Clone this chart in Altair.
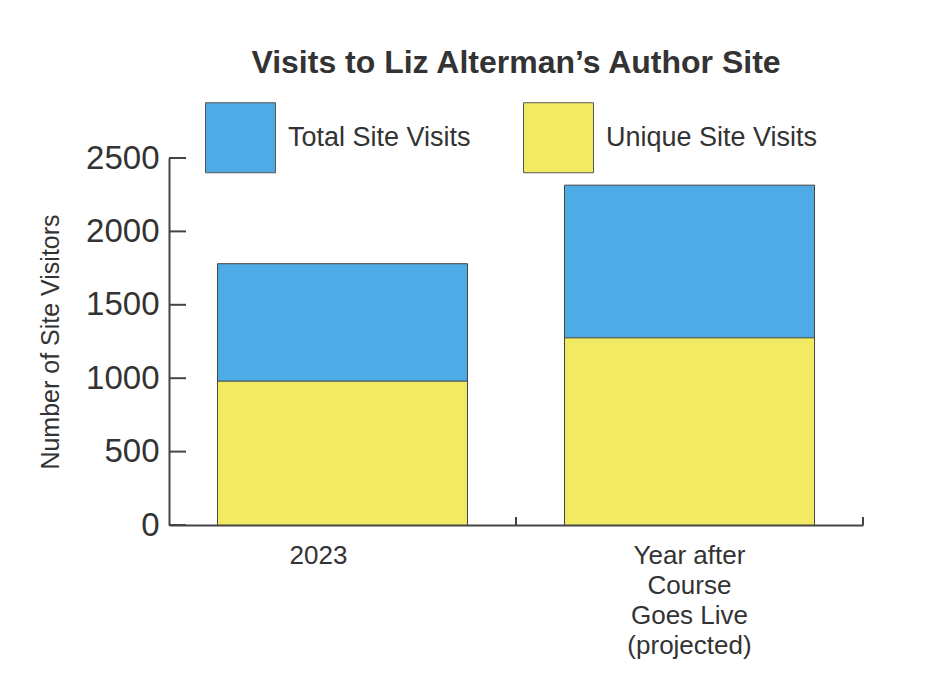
import altair as alt
import pandas as pd

categories = ["2023", "Year after\nCourse\nGoes Live\n(projected)"]
total_visits = [1780, 2315]
unique_visits = [980, 1275]
series_names = ["Total Site Visits", "Unique Site Visits"]
series_colors = ["#4FABE6", "#F3EA64"]
y_ticks = [0, 500, 1000, 1500, 2000, 2500]

rows = []
for c, t in zip(categories, total_visits):
    rows.append({"category": c, "series": series_names[0], "value": t, "ord": 0})
for c, u in zip(categories, unique_visits):
    rows.append({"category": c, "series": series_names[1], "value": u, "ord": 1})
df = pd.DataFrame(rows)
ticks_df = pd.DataFrame({"tick": y_ticks})
cat_df = pd.DataFrame({"category": categories})

FONT = "Liberation Sans"
TXT = "#333333"
AX = "#444444"
W, H = 694, 367

x_enc = alt.X(
    "category:N",
    sort=categories,
    scale=alt.Scale(domain=categories, paddingInner=0, paddingOuter=0),
    axis=alt.Axis(
        title=None,
        labelAngle=0,
        labelFontSize=26,
        labelFont=FONT,
        labelColor=TXT,
        labelPadding=17,
        labelLineHeight=30,
        labelExpr="split(datum.label, '\\n')",
        labelOffset={"condition": {"test": "datum.value == '2023'", "value": -24}, "value": 0},
        ticks=False,
        domainColor=AX,
        domainWidth=2,
    ),
)
y_scale = alt.Scale(domain=[0, 2500], nice=False)

bars = alt.Chart(df).mark_bar(size=250, stroke="#444444", strokeWidth=1, opacity=1).encode(
    x=x_enc,
    y=alt.Y(
        "value:Q",
        stack=None,
        scale=y_scale,
        axis=alt.Axis(
            title="Number of Site Visitors",
            titleFont=FONT,
            titleFontSize=25,
            titleFontWeight="normal",
            titleColor=TXT,
            titlePadding=22,
            values=y_ticks,
            format="d",
            labelFont=FONT,
            labelFontSize=33,
            labelColor=TXT,
            labelPadding=10,
            ticks=False,
            grid=False,
            domainColor=AX,
            domainWidth=2,
        ),
    ),
    color=alt.Color(
        "series:N",
        scale=alt.Scale(domain=series_names, range=series_colors),
        legend=alt.Legend(
            title=None,
            orient="none",
            legendX=36,
            legendY=-56,
            direction="horizontal",
            symbolType="square",
            symbolSize=4900,
            symbolStrokeColor="#555555",
            symbolStrokeWidth=1,
            labelFont=FONT,
            labelFontSize=27,
            labelColor=TXT,
            labelOffset=12,
            columnPadding=50,
            labelLimit=400,
        ),
    ),
    order=alt.Order("ord:Q"),
)

y_tick_rules = alt.Chart(ticks_df).mark_rule(color=AX, strokeWidth=2).encode(
    y=alt.Y("tick:Q", scale=y_scale),
    x=alt.value(0),
    x2=alt.value(17),
)

x_tick_rules = alt.Chart(cat_df).mark_rule(color=AX, strokeWidth=2).encode(
    x=alt.X("category:N", sort=categories, bandPosition=1),
    y=alt.value(H),
    y2=alt.value(H - 8),
)

chart = (
    alt.layer(bars, y_tick_rules, x_tick_rules)
    .properties(
        width=W,
        height=H,
        background="white",
        title=alt.TitleParams(
            "Visits to Liz Alterman\u2019s Author Site",
            font=FONT,
            fontSize=32,
            fontWeight="bold",
            color=TXT,
            anchor="middle",
            offset=22,
        ),
        autosize=alt.AutoSizeParams(type="none"),
        padding={"left": 161, "top": 150, "right": 60, "bottom": 140},
    )
    .configure_view(strokeWidth=0, stroke="transparent")
)

chart.save("out.html", embed_options={"renderer": "svg", "actions": False})
